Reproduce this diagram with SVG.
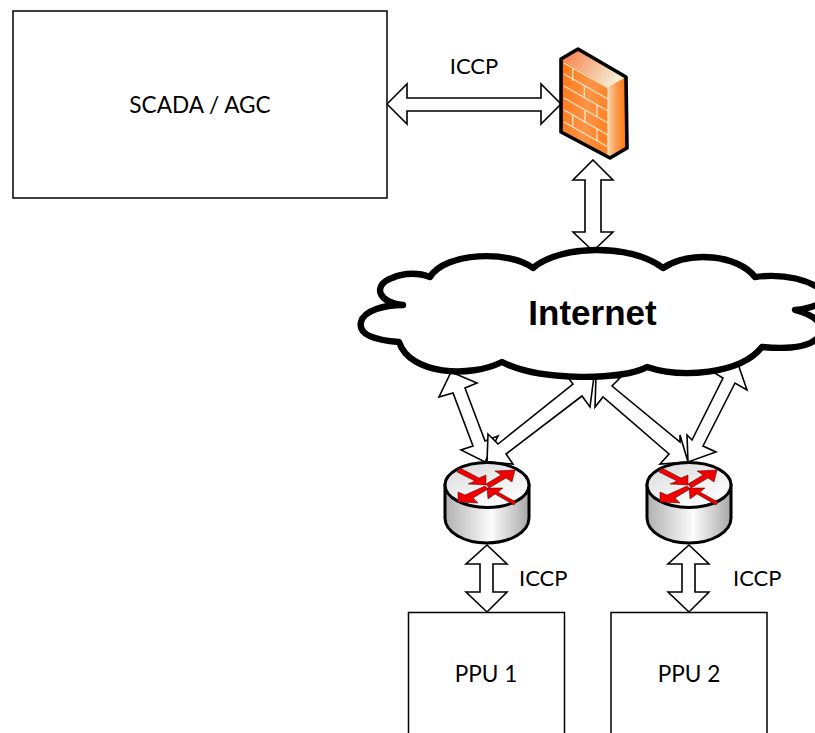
<svg xmlns="http://www.w3.org/2000/svg" xmlns:xlink="http://www.w3.org/1999/xlink" width="815" height="733" viewBox="0 0 815 733">
<style>
.box{fill:#fff;stroke:#000;stroke-width:1.5}
.lbl{font-family:Lato,"Liberation Sans",sans-serif;font-size:22px;fill:#000}
.big{font-size:22.6px}
.arr{fill:#fff;stroke:#000;stroke-width:1.6;stroke-linejoin:miter}
.cloud{fill:#fff;stroke:#000;stroke-width:6.400;stroke-linejoin:round}
.brick{fill:none;stroke:#f6e6c8;stroke-width:1.3}
.red{fill:#f00000;stroke:#400;stroke-width:.5}
</style>
<defs>
<linearGradient id="body" x1="0" x2="1" y1="0" y2="0"><stop offset="0" stop-color="#b0b0b0"/><stop offset=".55" stop-color="#fcfcfc"/><stop offset="1" stop-color="#a8a8a8"/></linearGradient>
<linearGradient id="disc" x1="0" x2=".6" y1="0" y2="1"><stop offset="0" stop-color="#d8d8d8"/><stop offset="1" stop-color="#fff"/></linearGradient>
<linearGradient id="fwFront" x1="0" x2="1" y1="0" y2=".3"><stop offset="0" stop-color="#ff7410"/><stop offset=".65" stop-color="#fd9448"/><stop offset="1" stop-color="#ff8428"/></linearGradient>
<linearGradient id="fwTop" x1="0" x2="1" y1="0" y2=".4"><stop offset="0" stop-color="#fb7440"/><stop offset=".55" stop-color="#f4b890"/><stop offset="1" stop-color="#f5ecd4"/></linearGradient>
<linearGradient id="fwSide" x1="0" x2="1" y1="0" y2="0"><stop offset="0" stop-color="#f8d0a0"/><stop offset=".45" stop-color="#fb9a50"/><stop offset="1" stop-color="#ff7400"/></linearGradient>
<g id="router">
<path d="M-42 0V33C-42 47-23 58 0 58S42 47 42 33V0Z" fill="url(#body)" stroke="#000" stroke-width="3"/>
<ellipse cx="0" cy="0" rx="42" ry="22.5" fill="url(#disc)" stroke="#000" stroke-width="3"/>
<polygon class="red" points="-27,-17 -8,-7 -1,-10 -1,0 -19,-1 -12,-4 -30,-13"/>
<polygon class="red" points="-1,-1 14,-10 8,-14 28,-15 25,-3 19,-7 2,3"/>
<polygon class="red" points="-2,1 1,4 -14,13 -9,18 -29,17 -29,7 -22,10"/>
<polygon class="red" points="0,3 16,3 11,7 29,17 27,20 8,9 1,14"/>
</g>
</defs>

<g id="connectors">
<polygon class="arr" points="387,104 407,84 407,98 541,98 541,84 561,104 541,124 541,111 407,111 407,124"/>
<polygon class="arr" points="593,160 613,180 601,180 601,232 613,232 593,251 573,232 585,232 585,180 573,180"/>
<polygon class="arr" points="451,372 477,383 465,388 485,441 498,436 485,462 461,450 473,446 453,393 439,397"/>
<polygon class="arr" points="594,376 590,407 582,396 506,454 513,464 487,462 488,434 498,444 573,384 567,376"/>
<polygon class="arr" points="596,376 620,378 612,386 680,442 680,435 688,462 660,464 669,454 603,397 595,407"/>
<polygon class="arr" points="738,364 747,390 735,383 703,446 716,452 688,462 687,435 692,440 723,378 713,372"/>
<polygon class="arr" points="487,545 507,564 493,564 493,592 507,592 487,612 466,592 480,592 480,564 466,564"/>
<polygon class="arr" points="689,545 709,564 695,564 695,592 709,592 689,612 668,592 682,592 682,564 668,564"/>
</g>

<g id="scada"><rect class="box" x="13" y="11" width="374" height="187"/><text class="lbl big" x="200" y="112.500" text-anchor="middle">SCADA / AGC</text></g>
<text class="lbl" x="474" y="74" text-anchor="middle">ICCP</text>

<g id="firewall">
<polygon points="561,59 608,87 608,158 561,132" fill="url(#fwFront)"/>
<polygon points="561,59 578,49 626,77 608,87" fill="url(#fwTop)"/>
<polygon points="608,87 626,77 627,148 608,158" fill="url(#fwSide)"/>
<path class="brick" d="M564,63 608,88M564,74 608,99M564,86 608,111M564,98 608,123M564,110 608,135M564,122 608,147M608,87V157M572.700,69V81M584.300,85V97M597,105V117M572.700,114V126M585,111V123M597,129V141"/>
<polygon points="561,59 578,49 626,77 627,148 610,158 561,132" fill="none" stroke="#000" stroke-width="3.600" stroke-linejoin="round"/>
</g>

<g id="internet">
<path class="cloud" d="M403,305C378,303 372,285 392,278C405,272 420,273 430,277C445,252 510,250 533,268C560,245 630,243 663,268C690,250 738,255 755,277C785,273 810,280 825,292C832,300 815,308 795,310C815,315 832,328 815,340C805,348 785,349 762,347C740,375 680,378 647,367C625,380 540,382 502,362C470,378 410,375 399,342C375,340 358,335 361,322C364,310 385,305 403,305Z"/>
<text x="592.500" y="325" text-anchor="middle" font-family="Liberation Sans,Arial,sans-serif" font-weight="bold" font-size="35" fill="#000">Internet</text>
</g>

<g id="router1"><use href="#router" xlink:href="#router" x="487" y="485"/></g>
<g id="router2"><use href="#router" xlink:href="#router" x="689" y="485"/></g>

<g id="ppu1"><rect class="box" x="408.500" y="612.500" width="156" height="130"/><text class="lbl big" x="486" y="682" text-anchor="middle">PPU 1</text></g>
<g id="ppu2"><rect class="box" x="611" y="612.500" width="156" height="130"/><text class="lbl big" x="689" y="682" text-anchor="middle">PPU 2</text></g>
<text class="lbl" x="519" y="586">ICCP</text>
<text class="lbl" x="733" y="586">ICCP</text>
</svg>
